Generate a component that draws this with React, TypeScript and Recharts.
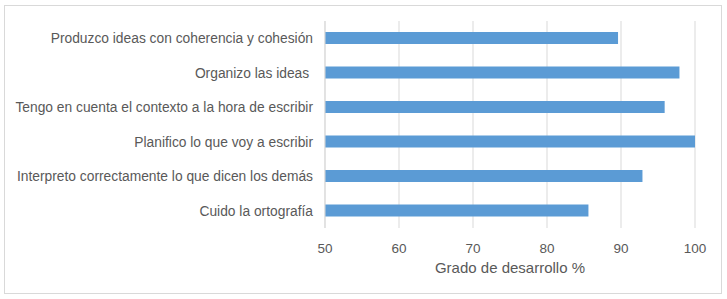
import React from "react";
import { BarChart, Bar, XAxis, YAxis, CartesianGrid } from "recharts";

const categories = [
  "Produzco ideas con coherencia y cohesión",
  "Organizo las ideas ",
  "Tengo en cuenta el contexto a la hora de escribir",
  "Planifico lo que voy a escribir",
  "Interpreto correctamente lo que dicen los demás",
  "Cuido la ortografía",
];
const values = [89.6, 97.9, 95.9, 100, 92.9, 85.6];
const xTicks = [50, 60, 70, 80, 90, 100];

const data = categories.map((name, i) => ({ name, value: values[i] }));

const FONT = "'Liberation Sans', Arial, sans-serif";
const TEXT = "#595959";

export default function App() {
  return (
    <div style={{ position: "absolute", left: 0, top: 0, width: 727, height: 299, background: "#fff" }}>
      {/* chart frame */}
      <div
        style={{
          position: "absolute",
          left: 4,
          top: 5,
          width: 718,
          height: 289,
          border: "1px solid #d9d9d9",
          boxSizing: "border-box",
        }}
      />
      <div style={{ position: "absolute", left: 0, top: 0 }}>
        <BarChart
          width={727}
          height={299}
          data={data}
          layout="vertical"
          margin={{ top: 21, right: 32, left: 0, bottom: 21 }}
          barCategoryGap="32%"
        >
          <CartesianGrid horizontal={false} stroke="#d9d9d9" />
          <XAxis
            type="number"
            domain={[50, 100]}
            ticks={xTicks}
            allowDataOverflow
            axisLine={false}
            tickLine={false}
            tickSize={6}
            tickMargin={9}
            height={50}
            tick={{ fill: TEXT, fontSize: 13.5, fontFamily: FONT }}
            label={{
              value: "Grado de desarrollo %",
              position: "insideBottom",
              offset: 5,
              fill: TEXT,
              fontSize: 15,
              fontFamily: FONT,
            }}
          />
          <YAxis
            type="category"
            dataKey="name"
            width={325}
            axisLine={{ stroke: "#d9d9d9" }}
            tickLine={false}
            tickSize={6}
            tickMargin={6}
            interval={0}
            tick={{ fill: TEXT, fontSize: 13.8, fontFamily: FONT, style: { whiteSpace: "pre" } }}
          />
          <Bar dataKey="value" fill="#5b9bd5" isAnimationActive={false} />
        </BarChart>
      </div>
    </div>
  );
}
